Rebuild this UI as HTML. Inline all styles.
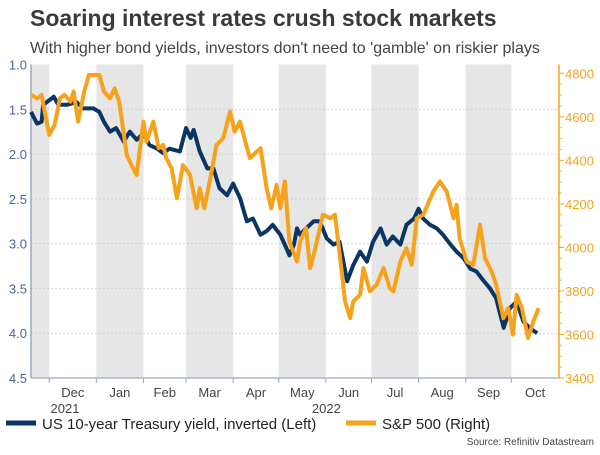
<!DOCTYPE html>
<html><head><meta charset="utf-8"><style>
body{margin:0;width:600px;height:450px;background:#fff;overflow:hidden;font-family:"Liberation Sans",sans-serif}
svg text{font-family:"Liberation Sans",sans-serif}
</style></head><body>
<svg id="chart" width="600" height="450" xmlns="http://www.w3.org/2000/svg">
<text x="30" y="26" font-size="23" font-weight="bold" fill="#3a3a3a">Soaring interest rates crush stock markets</text>
<text x="30" y="53" font-size="16" fill="#444">With higher bond yields, investors don't need to 'gamble' on riskier plays</text>
<g id="bands"></g><g id="grid"></g><g id="axes"></g><g id="series"></g>
<g>
<line x1="6" y1="423" x2="36" y2="423" stroke="#0b3563" stroke-width="5"/>
<text x="42" y="429" font-size="15" fill="#222">US 10-year Treasury yield, inverted (Left)</text>
<line x1="346" y1="423" x2="376" y2="423" stroke="#f7a21b" stroke-width="5"/>
<text x="382" y="429" font-size="15" fill="#222">S&amp;P 500 (Right)</text>
</g>
<text x="594" y="445" font-size="10" fill="#444" text-anchor="end">Source: Refinitiv Datastream</text>
</svg>
<script>
const yieldDays=[0,4,7,8,15,18,23.5,30,34,41,45,48,52,56,61,65,69.5,74,78,83,87,91,98,102,105,107,111,116,120,124,129,133,137.5,142,146,151,155,159,164,168,170,173,175,177,181,186,190,194.5,199,203,208,212,216.5,221,225,230,234,238,243,247,252,255,258,262.5,267,271,276,280,284.5,289,293,298,302,306,311,315,319.5,324,328,333];
const yieldVals=[1.53,1.66,1.64,1.45,1.36,1.45,1.45,1.42,1.49,1.49,1.53,1.64,1.75,1.71,1.86,1.75,1.84,1.77,1.90,1.94,1.99,1.94,1.97,1.71,1.82,1.73,1.97,2.16,2.16,2.38,2.46,2.33,2.49,2.75,2.72,2.90,2.86,2.79,2.90,3.05,3.13,3.01,2.83,2.90,2.83,2.75,2.75,2.94,3.01,2.98,3.42,3.24,3.09,3.20,2.98,2.83,3.01,2.92,3.01,2.79,2.72,2.61,2.72,2.79,2.83,2.90,3.01,3.09,3.16,3.28,3.31,3.42,3.50,3.61,3.94,3.72,3.65,3.87,3.94,4.00];
const spxDays=[0,4,7,9,12,15.5,19,22,26,28,31,35,38,41,45,48,52,55,58,63,66,69.5,74,76,80.5,84,87,89,92.5,96,100,104.6,109,111,114,118,122,126.5,131,134,137.5,141,144,151,155,158,161.6,164,167,170,175,177,181,183.6,186,189,192,197,200,204.4,206.6,210,212,216.5,218.7,223,227.4,232,236,238.4,243,247,250.5,253.8,258,264.7,269,273.5,278,280,282,286.6,291,295.4,298.7,303,306,310.8,314,317,319.5,323,327,330.5,334];
const spxVals=[4701,4685,4701,4624,4517,4563,4685,4701,4670,4716,4578,4716,4792,4792,4792,4716,4685,4731,4670,4425,4379,4333,4578,4486,4578,4456,4471,4410,4364,4226,4379,4333,4180,4272,4180,4318,4471,4502,4624,4532,4578,4486,4410,4456,4272,4180,4287,4180,4303,4027,3935,4027,4089,3905,3966,4058,4150,4134,4150,3890,3752,3675,3752,3782,3905,3798,3829,3905,3813,3798,3935,3997,3920,4134,4150,4257,4303,4257,4134,4196,4042,3935,3920,4104,3951,3890,3829,3675,3721,3599,3782,3721,3584,3660,3721];
const leftTicks=[1.0,1.5,2.0,2.5,3.0,3.5,4.0,4.5];
const rightTicks=[3400,3600,3800,4000,4200,4400,4600,4800];
const monthLabels=["Dec","Jan","Feb","Mar","Apr","May","Jun","Jul","Aug","Sep","Oct"];
const monthDays=[12,43,74,102,133,163,194,224,255,286,316];
const yearLabels=["2021","2022"];

const X0=31,X1=559,Y0=64.5,Y1=378,PPD=1.52;
const xs=d=>X0+d*PPD;
const yL=v=>Y0+(v-1)*(Y1-Y0)/3.5;
const yR=v=>73.3+(4800-v)*(Y1-73.3)/1400;
const NS="http://www.w3.org/2000/svg";
function mk(parent,tag,attrs){const e=document.createElementNS(NS,tag);for(const k in attrs)e.setAttribute(k,attrs[k]);document.getElementById(parent).appendChild(e);return e;}

// bands
const bounds=[0].concat(monthDays).map(xs).concat([X1]);
for(let i=0;i<bounds.length-1;i+=2){
 const r=mk('bands','rect',{x:bounds[i],y:Y0,width:Math.min(bounds[i+1],X1)-bounds[i],height:Y1-Y0,fill:'#e6e6e6'});
 
 
}
// grid + left ticks
leftTicks.forEach(v=>{
 if(v>1&&v<4.5){const g=mk('grid','line',{x1:X0,x2:X1,y1:yL(v),y2:yL(v),stroke:'#c8c8c8','stroke-width':0.7,'stroke-dasharray':'2,2'});
 
 }
 const t=mk('axes','text',{x:27,y:yL(v)+5,'font-size':13,fill:'#4a6690','text-anchor':'end'});
 
 
 t.textContent=v.toFixed(1);
});
rightTicks.forEach(v=>{
 const t=mk('axes','text',{x:565,y:yR(v)+5,'font-size':13,fill:'#f7a21b'});
 
 
 t.textContent=v;
 mk('axes','line',{x1:X1,x2:X1+5,y1:yR(v),y2:yR(v),stroke:'#f7a21b','stroke-width':1});
});
for(let v=3400;v<=4800;v+=50){mk('axes','line',{x1:X1,x2:X1+3,y1:yR(v),y2:yR(v),stroke:'#f7a21b','stroke-width':0.8});}
const la=mk('axes','line',{x1:X0,x2:X0,y1:Y0,y2:Y1,stroke:'#9aaac0','stroke-width':1.5});

const ra=mk('axes','line',{x1:X1,x2:X1,y1:Y0,y2:Y1,stroke:'#f7a21b','stroke-width':1.5});

const ba=mk('axes','line',{x1:X0,x2:X1,y1:Y1,y2:Y1,stroke:'#9aaac0','stroke-width':1.2});

monthLabels.forEach((m,i)=>{
 const x=xs(monthDays[i]);
 mk('axes','line',{x1:x,x2:x,y1:Y1,y2:Y1+5,stroke:'#9aaac0','stroke-width':1});
 const next=i<monthDays.length-1?xs(monthDays[i+1]):X1;
 const t=mk('axes','text',{x:(x+next)/2,y:397,'font-size':13,fill:'#444','text-anchor':'middle'});
 
 
 t.textContent=m;
});
[[xs(0)+34,yearLabels[0]],[xs(43)+230,yearLabels[1]]].forEach(([x,s])=>{
 const t=mk('axes','text',{x:x,y:413,'font-size':13,fill:'#444','text-anchor':'middle'});
 
 
 t.textContent=s;
});
// series
const p1=mk('series','polyline',{points:spxDays.map((d,i)=>xs(d)+','+yR(spxVals[i])).join(' '),fill:'none',stroke:'#f7a21b','stroke-width':4,'stroke-linejoin':'round'});


const p0=mk('series','polyline',{points:yieldDays.map((d,i)=>xs(d)+','+yL(yieldVals[i])).join(' '),fill:'none',stroke:'#0b3563','stroke-width':4,'stroke-linejoin':'round'});


document.getElementById('series').insertBefore(p0,p1);
</script>
</body></html>
